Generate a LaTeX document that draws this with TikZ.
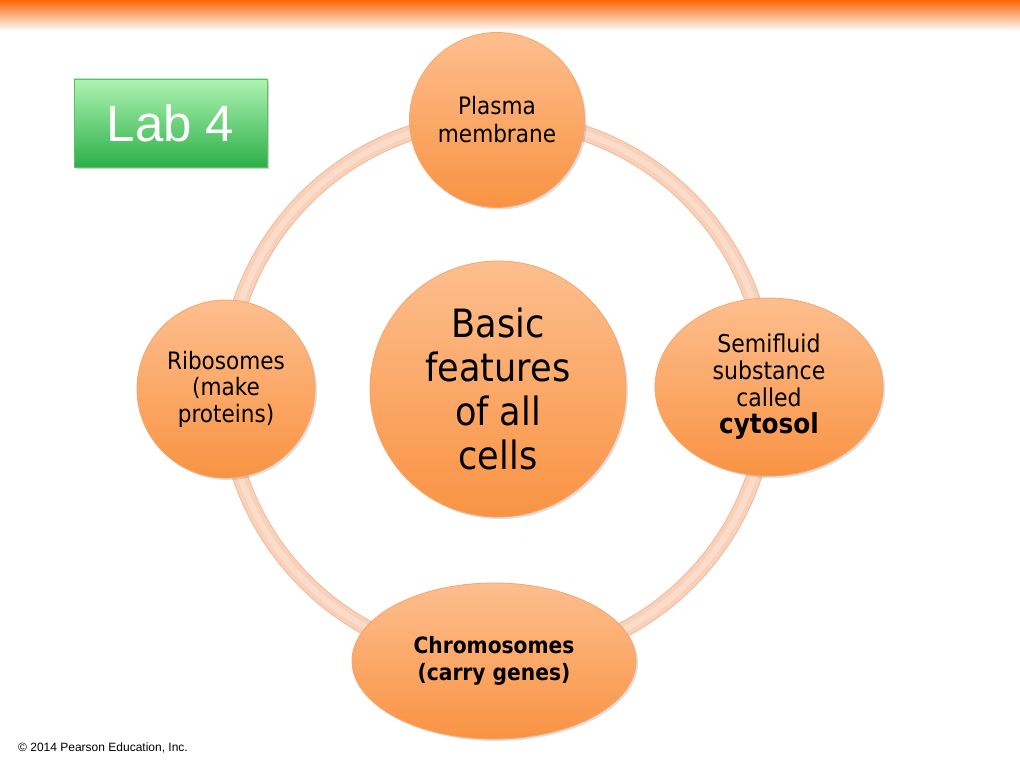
\documentclass[tikz,border=0pt]{standalone}
\usepackage{fontspec}
\setmainfont{DejaVu Sans Condensed}
\newfontfamily\arialf{Liberation Sans}
\usetikzlibrary{shapes.geometric,shadows}
\definecolor{bandorange}{HTML}{FF6A0E}
\definecolor{orTop}{HTML}{FDBE8E}
\definecolor{orBot}{HTML}{F99343}
\definecolor{orLine}{HTML}{F6A66C}
\definecolor{ringEdge}{HTML}{EFBB9E}
\definecolor{ringC}{HTML}{F9D0B8}
\definecolor{ringHi}{HTML}{FBDCCA}
\definecolor{grTop}{HTML}{AEF3B2}
\definecolor{grBot}{HTML}{2DB048}
\definecolor{grLine}{HTML}{5BBF6A}
\tikzset{
  bubble/.style={circle, inner sep=0pt, top color=orTop, bottom color=orBot,
    draw=orLine, line width=0.8pt, align=center, text=black,
    drop shadow={opacity=0.25, shadow xshift=2pt, shadow yshift=-2pt}},
  ebubble/.style={bubble, ellipse},
  ringedge/.style={line width=16pt, draw=ringEdge},
  ringline/.style={line width=14pt, draw=ringC},
  ringhl/.style={line width=6pt, draw=ringHi},
  labbox/.style={rectangle, inner sep=0pt, top color=grTop, bottom color=grBot,
    draw=grLine, line width=0.6pt, minimum width=193pt, minimum height=88pt,
    text=white, font=\arialf\fontsize{51}{56}\selectfont,
    drop shadow={opacity=0.35, shadow xshift=2pt, shadow yshift=-2pt}},
  small/.style={font=\fontsize{24}{28}\selectfont},
}
\begin{document}
\begin{tikzpicture}[x=1pt,y=-1pt]
\useasboundingbox (0,0) rectangle (1020,765);
\fill[white] (0,0) rectangle (1020,765);
\shade[top color=bandorange, bottom color=white] (0,1) rectangle (1020,31);
% ring
\coordinate (ctr) at (497,390);
\draw[ringedge] (ctr) circle[radius=271];
\draw[ringline] (ctr) circle[radius=271];
\draw[ringhl] (ctr) circle[radius=271];
% nodes
\node[bubble, minimum size=175pt, small] (pm) at (497,120) {Plasma\\membrane};
\node[bubble, minimum size=178pt, font=\fontsize{24}{26.5}\selectfont] (rib) at (226,389) {Ribosomes\\(make\\proteins)};
\node[ebubble, minimum width=228pt, minimum height=178pt, font=\fontsize{24.5}{27}\selectfont] (cyt) at (769,387)
  {Semifluid\\substance\\called\\{\bfseries\fontsize{27.5}{31}\selectfont cytosol}};
\node[ebubble, minimum width=284pt, minimum height=156pt, font=\bfseries\fontsize{22.5}{26.5}\selectfont] (chr) at (494,661)
  {Chromosomes\\(carry genes)};
\node[bubble, minimum size=256pt, font=\fontsize{39}{44}\selectfont] (basic) at (498,389)
  {Basic\\features\\of all\\cells};
\node[labbox] (lab) at (170.5,123) {Lab 4};
\node[anchor=west, font=\arialf\fontsize{12}{14}\selectfont, inner sep=0pt] (copy) at (18,748) {\textcopyright{} 2014 Pearson Education, Inc.};
\end{tikzpicture}
\end{document}
